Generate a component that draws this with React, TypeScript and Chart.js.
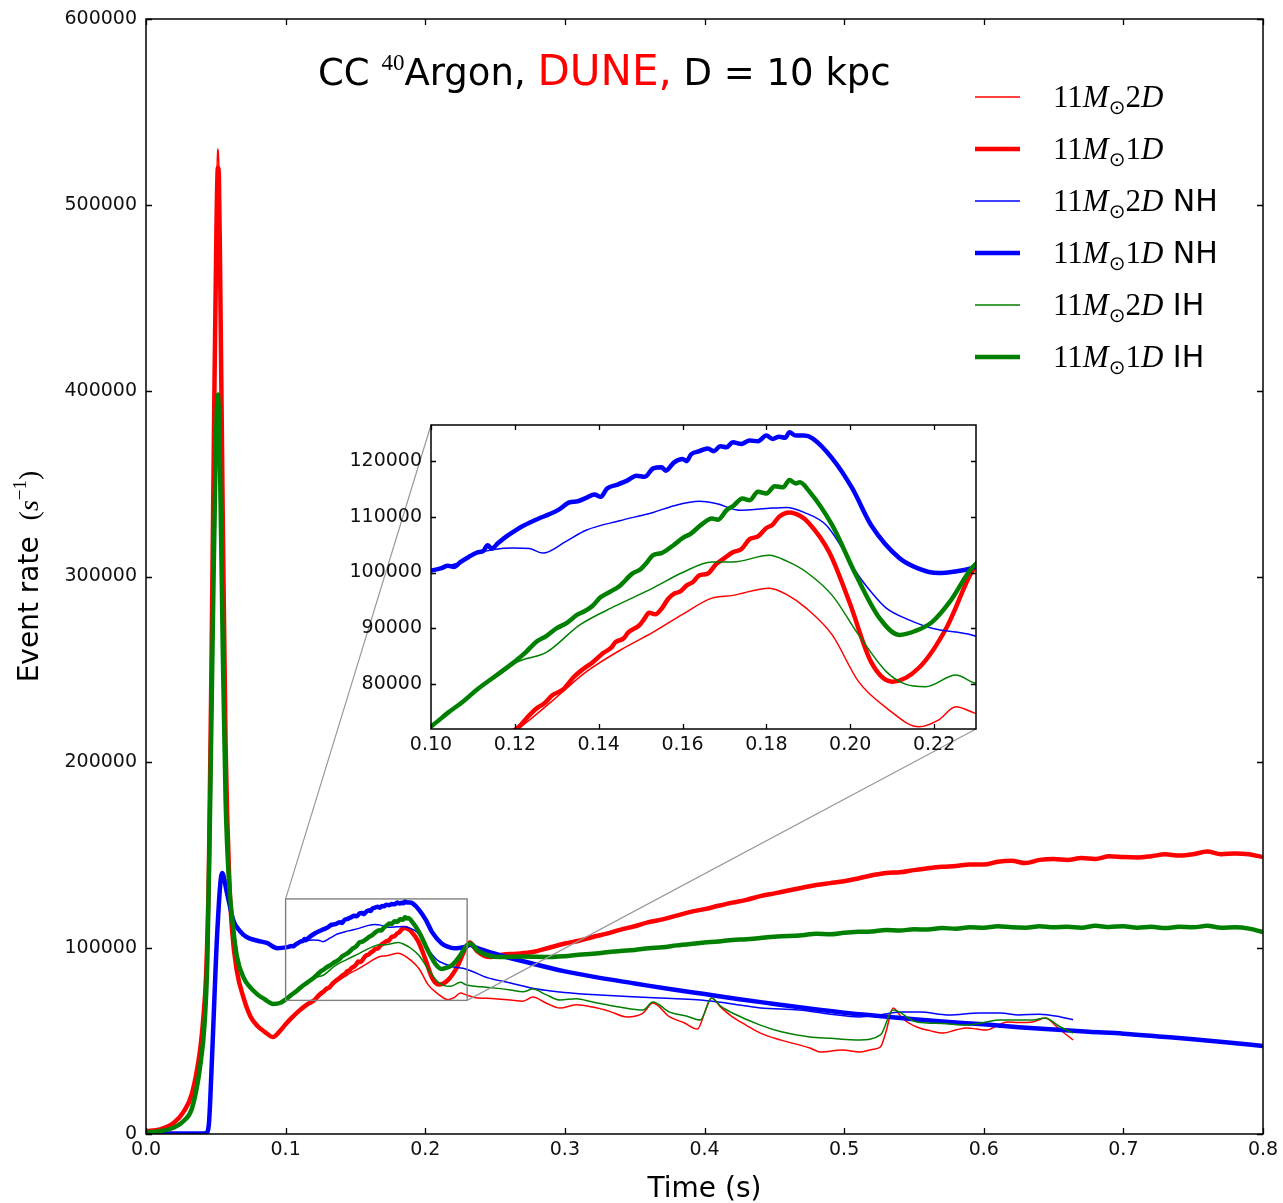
import React, { useEffect, useRef } from "react";
import { Chart, registerables } from "chart.js";
Chart.register(...registerables);

// ---------------- data ----------------
const LATE_T = [0.30, 0.31, 0.32, 0.33, 0.34, 0.35, 0.36, 0.37, 0.38, 0.39, 0.40, 0.41, 0.42, 0.43, 0.44, 0.45, 0.46, 0.47, 0.48, 0.49, 0.50, 0.51, 0.52, 0.53, 0.54, 0.55, 0.56, 0.57, 0.58, 0.59, 0.60, 0.61, 0.62, 0.63, 0.64, 0.65, 0.66, 0.67, 0.68, 0.69, 0.70, 0.71, 0.72, 0.73, 0.74, 0.75, 0.76, 0.77, 0.78, 0.79, 0.80];

// 11 Msun 1D (thick red)
const red1DT = [0, 0.01, 0.02, 0.027, 0.033, 0.0387, 0.041, 0.043, 0.045, 0.047, 0.049, 0.0505, 0.0515, 0.0522, 0.053, 0.055, 0.057, 0.0595, 0.0616, 0.065, 0.07, 0.075, 0.08, 0.085, 0.091, 0.096, 0.1, 0.105, 0.11, 0.115,
  0.121, 0.123, 0.125, 0.127, 0.129, 0.1315, 0.134, 0.136, 0.1386, 0.141, 0.143, 0.144, 0.146, 0.147, 0.1498, 0.151, 0.152, 0.1535, 0.155, 0.1565, 0.158, 0.1595, 0.161, 0.1625, 0.164, 0.166, 0.168, 0.17, 0.172, 0.174, 0.176, 0.178, 0.18, 0.1815, 0.183, 0.1855, 0.188, 0.19,
  0.195, 0.1998, 0.205, 0.21, 0.2164, 0.2229, 0.229, 0.232, 0.237, 0.2464, 0.255, 0.265, 0.277, 0.29, ...LATE_T];
const red1DY = [1500, 2500, 6000, 12000, 22000, 45000, 62000, 85000, 140000, 260000, 400000, 490000, 520000, 515000, 470000, 330000, 210000, 140000, 110000, 88000, 73000, 63000, 58000, 55000, 52200, 55500, 59000, 63000, 66500, 69500,
  72300, 74000, 75500, 76500, 78000, 79000, 81200, 82500, 83900, 85500, 86500, 87500, 88200, 89200, 90600, 91800, 92800, 92500, 93500, 95200, 96200, 96600, 97700, 98300, 99500, 99800, 101500, 102600, 103650, 104200, 106000, 106500, 108000, 108600, 110000, 110800, 110200, 109000,
  103650, 94700, 83900, 80400, 82900, 90000, 100100, 103000, 98500, 95200, 96500, 97000, 97900, 100500,
  102500, 104000, 106000, 107800, 110000, 111800, 114000, 115500, 117500, 119500, 121000, 122800, 124500, 126000, 128000, 129500, 131000, 132500, 134000, 135000, 136000, 137500, 139200, 140500, 140800, 142000, 143000, 143800, 144200, 145000, 145000, 146500, 147000, 145800, 147500, 148000, 147500, 148500, 148000, 149500, 149000, 148800, 149500, 150500, 149800, 150500, 152000, 150500, 151000, 150500, 149000];

// 11 Msun 2D (thin red)
const red2DT = [0, 0.01, 0.02, 0.027, 0.033, 0.0387, 0.041, 0.043, 0.045, 0.047, 0.049, 0.0505, 0.0512, 0.052, 0.053, 0.055, 0.057, 0.0595, 0.0616, 0.065, 0.07, 0.075, 0.08, 0.085, 0.091, 0.096, 0.1, 0.105, 0.11, 0.115, 0.121, 0.129, 0.137, 0.145, 0.153, 0.16, 0.167, 0.172, 0.1807, 0.185, 0.1895, 0.1957, 0.202, 0.2086, 0.2164, 0.221, 0.2252, 0.2295, 0.235, 0.245, 0.261, 0.27, 0.277, 0.2865, 0.2965, 0.308, 0.32, 0.332, 0.3445, 0.356, 0.363, 0.375, 0.385, 0.395, 0.4, 0.405, 0.412, 0.42, 0.43, 0.44, 0.455, 0.4755, 0.483, 0.499, 0.511, 0.52, 0.526, 0.53, 0.535, 0.542, 0.552, 0.562, 0.571, 0.58, 0.588, 0.595, 0.602, 0.61, 0.617, 0.625, 0.635, 0.644, 0.654, 0.664];
const red2DY = [1500, 2500, 6000, 12000, 22000, 45000, 62000, 85000, 140000, 260000, 400000, 500000, 530000, 525000, 480000, 335000, 212000, 140000, 110000, 88000, 73000, 63000, 58000, 55000, 52200, 55500, 59000, 63000, 66500, 69500, 72100, 77000, 82150, 86000, 89300, 92500, 95400, 95900, 97200, 96000, 93600, 88800, 80400, 75700, 72300, 73500, 75900, 74800, 73500, 73000, 72100, 71500, 73700, 70500, 67800, 69500, 68300, 66000, 63000, 65100, 70500, 63000, 60000, 56500, 65000, 73200, 68000, 63000, 58500, 54300, 50500, 46300, 44100, 45200, 44100, 45500, 46800, 55000, 67800, 62000, 57600, 55500, 54300, 56000, 57000, 56500, 56000, 58500, 60300, 60000, 60300, 62400, 56500, 50600];

// 11 Msun 1D NH (thick blue)
const blue1DT = [0, 0.02, 0.04, 0.043, 0.045, 0.046, 0.048, 0.051, 0.0545, 0.058, 0.0625, 0.067, 0.072, 0.08, 0.0866, 0.094,
  0.1005, 0.1025, 0.104, 0.1055, 0.107, 0.109, 0.111, 0.1125, 0.1135, 0.1145, 0.116, 0.118, 0.12, 0.122, 0.1236, 0.126, 0.128, 0.1305, 0.133, 0.135, 0.137, 0.139, 0.1405, 0.142, 0.1445, 0.147, 0.149, 0.151, 0.153, 0.155, 0.156, 0.158, 0.16, 0.161, 0.162, 0.164, 0.166, 0.1675, 0.169, 0.1705, 0.172, 0.174, 0.176, 0.178, 0.18, 0.1815, 0.183, 0.1845, 0.1855, 0.187, 0.189, 0.191,
  0.1957, 0.2005, 0.205, 0.2117, 0.216, 0.221, 0.225, 0.229, 0.232, 0.236, 0.25, 0.275, 0.3, 0.325, 0.35, 0.375, 0.4, 0.425, 0.45, 0.475, 0.5, 0.525, 0.55, 0.575, 0.6, 0.625, 0.65, 0.675, 0.7, 0.725, 0.75, 0.775, 0.8];
const blue1DY = [300, 300, 300, 500, 5000, 18300, 54300, 108000, 140400, 129700, 115100, 109500, 106000, 104000, 102800, 100000,
  100430, 100800, 101200, 101000, 101860, 102800, 103600, 103900, 104900, 104300, 105300, 106500, 107500, 108400, 109000, 109800, 110400, 111300, 112600, 112800, 113400, 114000, 113600, 115100, 115800, 116600, 117400, 117200, 118700, 118900, 118300, 119800, 120400, 120000, 121200, 121800, 122300, 121800, 122700, 122500, 123400, 123100, 123700, 123600, 124600, 124000, 124400, 124200, 125200, 124600, 124600, 124100,
  120500, 115100, 108500, 102600, 100800, 99900, 100200, 100800, 101800, 100500, 97000, 92000, 87500, 84000, 81000, 78000, 75300, 72500, 70000, 67500, 65300, 63500, 61800, 60300, 59000, 57500, 56200, 55000, 54000, 52500, 51000, 49300, 47400];

// 11 Msun 2D NH (thin blue)
const blue2DT = [0, 0.02, 0.04, 0.043, 0.045, 0.046, 0.048, 0.051, 0.0545, 0.058, 0.0625, 0.067, 0.072, 0.08, 0.0866, 0.094, 0.1005, 0.104, 0.107, 0.111, 0.1195, 0.1235, 0.1267, 0.132, 0.137, 0.145, 0.153, 0.158, 0.164, 0.168, 0.1736, 0.18, 0.1848, 0.189, 0.1943, 0.198, 0.2014, 0.205, 0.2086, 0.214, 0.2195, 0.229, 0.245, 0.261, 0.28, 0.2965, 0.31, 0.325, 0.345, 0.368, 0.38, 0.397, 0.41, 0.42, 0.44, 0.468, 0.49, 0.511, 0.525, 0.54, 0.554, 0.575, 0.597, 0.612, 0.625, 0.64, 0.655, 0.664];
const blue2DY = [300, 300, 300, 500, 5000, 18300, 54300, 108000, 140400, 129700, 115100, 109500, 106000, 104000, 102800, 100000, 100430, 101200, 101860, 103400, 104400, 104300, 103500, 105500, 107600, 109300, 110800, 112000, 112800, 112400, 111200, 111500, 111700, 110800, 108500, 104500, 100100, 96500, 93600, 91500, 90000, 88800, 84000, 81300, 78000, 76400, 75500, 74800, 74000, 73200, 72800, 72100, 71000, 70000, 67800, 66700, 64500, 63000, 64000, 65600, 65600, 64000, 65100, 65100, 64000, 64500, 63000, 61500];

// 11 Msun 1D IH (thick green)
const green1DT = [0, 0.01, 0.02, 0.027, 0.033, 0.0387, 0.042, 0.044, 0.046, 0.048, 0.05, 0.0515, 0.053, 0.055, 0.057, 0.0595, 0.0616, 0.065, 0.07, 0.0745, 0.08, 0.085, 0.091, 0.096, 0.1005, 0.104, 0.1076, 0.111, 0.1157,
  0.12, 0.1225, 0.125, 0.1275, 0.13, 0.1325, 0.1348, 0.1365, 0.1385, 0.1405, 0.1426, 0.145, 0.148, 0.15, 0.1515, 0.1529, 0.155, 0.158, 0.16, 0.162, 0.1645, 0.167, 0.1685, 0.1705, 0.172, 0.1743, 0.176, 0.178, 0.18, 0.182, 0.184, 0.1855, 0.187, 0.188, 0.19,
  0.1957, 0.2014, 0.207, 0.2117, 0.2155, 0.2195, 0.224, 0.229, 0.232, 0.238, 0.2535, 0.27, 0.289, ...LATE_T];
const green1DY = [1000, 1500, 3500, 7000, 14000, 36000, 60000, 95000, 180000, 280000, 370000, 398000, 360000, 260000, 180000, 135000, 116800, 96000, 84000, 79000, 75000, 72500, 70000, 70500, 72650, 74800, 76800, 79000, 81600,
  84000, 85600, 87500, 88600, 90000, 91000, 92400, 93000, 94000, 95600, 96500, 97600, 99800, 100600, 101800, 103100, 103500, 105000, 106200, 107000, 108600, 109700, 109500, 111200, 111900, 113300, 113000, 114500, 114200, 115500, 115300, 116600, 116000, 116200, 114800,
  108500, 99500, 91800, 88800, 89500, 91100, 95000, 100800, 102500, 98500, 95200, 95500, 95200,
  95700, 96500, 97000, 97800, 98500, 99000, 100000, 100500, 101500, 102300, 103000, 103600, 104400, 104800, 105500, 106200, 106500, 107000, 107800, 107500, 108300, 108800, 109000, 109800, 109500, 110200, 110000, 110800, 110500, 111300, 111000, 111800, 111200, 111000, 111800, 111200, 111500, 111000, 112000, 111400, 111800, 111000, 111500, 110800, 111500, 111200, 112000, 111000, 111200, 110500, 108700];

// 11 Msun 2D IH (thin green)
const green2DT = [0, 0.01, 0.02, 0.027, 0.033, 0.0387, 0.042, 0.044, 0.046, 0.048, 0.05, 0.0515, 0.053, 0.055, 0.057, 0.0595, 0.0616, 0.065, 0.07, 0.0745, 0.08, 0.085, 0.091, 0.096, 0.1005, 0.104, 0.1076, 0.111, 0.1157, 0.1205, 0.1276, 0.1355, 0.144, 0.1529, 0.16, 0.167, 0.172, 0.1807, 0.185, 0.1895, 0.1957, 0.202, 0.2086, 0.213, 0.218, 0.2252, 0.2295, 0.24, 0.25, 0.261, 0.27, 0.277, 0.2865, 0.2965, 0.308, 0.32, 0.33, 0.339, 0.356, 0.363, 0.375, 0.387, 0.397, 0.405, 0.412, 0.42, 0.44, 0.455, 0.4755, 0.49, 0.511, 0.526, 0.535, 0.552, 0.57, 0.588, 0.6, 0.612, 0.635, 0.644, 0.654, 0.664];
const green2DY = [1000, 1500, 3500, 7000, 14000, 36000, 60000, 95000, 178000, 275000, 362000, 390000, 355000, 258000, 180000, 135000, 116800, 96000, 84000, 79000, 75000, 72500, 70000, 70500, 72650, 74800, 76800, 79000, 81300, 83900, 85700, 90600, 94000, 97200, 100000, 101900, 101900, 103100, 102000, 100100, 95900, 88800, 82200, 80000, 79500, 81600, 80200, 79200, 78500, 77500, 76500, 78000, 75000, 72100, 72800, 71000, 69500, 68300, 66700, 71000, 65600, 63500, 61300, 73200, 68500, 65100, 58600, 55000, 52200, 51500, 50600, 53300, 66700, 60300, 59500, 58600, 60000, 61300, 61300, 62400, 58000, 54300];

// ticks
const mainXTicks = [0, 0.1, 0.2, 0.3, 0.4, 0.5, 0.6, 0.7, 0.8];
const mainYTicks = [0, 100000, 200000, 300000, 400000, 500000, 600000];
const insetXTicks = [0.10, 0.12, 0.14, 0.16, 0.18, 0.20, 0.22];
const insetYTicks = [80000, 90000, 100000, 110000, 120000];

// zoom window
const ZOOM_X = [0.10, 0.23];
const ZOOM_Y = [71900, 126500];

// ---------------- style ----------------
const W = 1283;
const H = 1203;
const SANS = '"DejaVu Sans", "Liberation Sans", sans-serif';
const SERIF = '"Liberation Serif", "DejaVu Serif", serif';
const RED = "#ff0000";
const BLUE = "#0000ff";
const GREEN = "#008000";
const THIN = 1.5;
const THICK = 4.5;
const TICK_FONT = 19;

const INSET_LEFT = 330;
const INSET_TOP = 413;
const INSET_W = 660;
const INSET_H = 352;

const series = [
  { t: red2DT, y: red2DY, color: RED, width: THIN, num: "2", suffix: "" },
  { t: red1DT, y: red1DY, color: RED, width: THICK, num: "1", suffix: "" },
  { t: blue2DT, y: blue2DY, color: BLUE, width: THIN, num: "2", suffix: " NH" },
  { t: blue1DT, y: blue1DY, color: BLUE, width: THICK, num: "1", suffix: " NH" },
  { t: green2DT, y: green2DY, color: GREEN, width: THIN, num: "2", suffix: " IH" },
  { t: green1DT, y: green1DY, color: GREEN, width: THICK, num: "1", suffix: " IH" },
];

function makeDatasets() {
  return series.map((s, i) => ({
    label: `11M${s.num}D${s.suffix}`,
    data: s.t.map((x, k) => ({ x, y: s.y[k] })),
    borderColor: s.color,
    backgroundColor: s.color,
    borderWidth: s.width,
    pointRadius: 0,
    fill: false,
    cubicInterpolationMode: "monotone" as const,
    borderJoinStyle: "round" as const,
    order: series.length - i,
  }));
}

type Run = { text: string; font: string; color?: string; dy?: number };
function runsWidth(ctx: CanvasRenderingContext2D, runs: Run[]) {
  let w = 0;
  for (const r of runs) {
    ctx.font = r.font;
    w += ctx.measureText(r.text).width;
  }
  return w;
}
function drawRuns(ctx: CanvasRenderingContext2D, x: number, y: number, runs: Run[]) {
  ctx.textBaseline = "alphabetic";
  ctx.textAlign = "left";
  for (const r of runs) {
    ctx.font = r.font;
    ctx.fillStyle = r.color || "#000";
    ctx.fillText(r.text, x, y + (r.dy || 0));
    x += ctx.measureText(r.text).width;
  }
  return x;
}

function framePlugin(tickLen: number, xTicks: number[], yTicks: number[], fillBg: boolean) {
  return {
    id: "frameTicks",
    beforeDatasetsDraw(chart: any) {
      if (!fillBg) return;
      const { ctx, chartArea: a } = chart;
      ctx.save();
      ctx.fillStyle = "#fff";
      ctx.fillRect(a.left, a.top, a.right - a.left, a.bottom - a.top);
      ctx.restore();
    },
    afterDatasetsDraw(chart: any) {
      const { ctx, chartArea: a, scales } = chart;
      ctx.save();
      ctx.strokeStyle = "#000";
      ctx.lineWidth = 1.3;
      ctx.beginPath();
      for (const v of xTicks) {
        const px = Math.round(scales.x.getPixelForValue(v)) + 0.5;
        ctx.moveTo(px, a.bottom);
        ctx.lineTo(px, a.bottom - tickLen);
        ctx.moveTo(px, a.top);
        ctx.lineTo(px, a.top + tickLen);
      }
      for (const v of yTicks) {
        const py = Math.round(scales.y.getPixelForValue(v)) + 0.5;
        ctx.moveTo(a.left, py);
        ctx.lineTo(a.left + tickLen, py);
        ctx.moveTo(a.right, py);
        ctx.lineTo(a.right - tickLen, py);
      }
      ctx.stroke();
      ctx.lineWidth = 1.5;
      ctx.strokeRect(a.left, a.top, a.right - a.left, a.bottom - a.top);
      ctx.restore();
    },
  };
}

function mainDecor(inset: any) {
  return {
    id: "mainDecor",
    afterDatasetsDraw(chart: any) {
      const { ctx, scales } = chart;
      const x0 = scales.x.getPixelForValue(ZOOM_X[0]);
      const x1 = scales.x.getPixelForValue(ZOOM_X[1]);
      const y0 = scales.y.getPixelForValue(ZOOM_Y[1]);
      const y1 = scales.y.getPixelForValue(ZOOM_Y[0]);
      ctx.save();
      ctx.strokeStyle = "#808080";
      ctx.lineWidth = 1.4;
      ctx.strokeRect(x0, y0, x1 - x0, y1 - y0);
      const ia = inset.chartArea;
      ctx.strokeStyle = "#999999";
      ctx.lineWidth = 1.2;
      ctx.beginPath();
      ctx.moveTo(x0, y0);
      ctx.lineTo(INSET_LEFT + ia.left, INSET_TOP + ia.top);
      ctx.moveTo(x1, y1);
      ctx.lineTo(INSET_LEFT + ia.right, INSET_TOP + ia.bottom);
      ctx.stroke();
      ctx.restore();
    },
    afterDraw(chart: any) {
      const { ctx, chartArea: a } = chart;
      ctx.save();
      // title
      drawRuns(ctx, 318, 85, [
        { text: "CC ", font: `37px ${SANS}` },
        { text: "40", font: `23px ${SERIF}`, dy: -15 },
        { text: "Argon, ", font: `37px ${SANS}` },
        { text: "DUNE,", font: `42px ${SANS}`, color: RED },
        { text: " D = 10 kpc", font: `37px ${SANS}` },
      ]);
      // legend
      series.forEach((s, i) => {
        const y = 97 + i * 52;
        ctx.strokeStyle = s.color;
        ctx.lineWidth = s.width;
        ctx.lineCap = "butt";
        ctx.beginPath();
        ctx.moveTo(975, y);
        ctx.lineTo(1020, y);
        ctx.stroke();
        const base = y + 10;
        drawRuns(ctx, 1053, base, [
          { text: "11", font: `31px ${SERIF}` },
          { text: "M", font: `italic 31px ${SERIF}` },
          { text: "\u2299", font: `20px ${SANS}`, dy: 7 },
          { text: s.num, font: `31px ${SERIF}` },
          { text: "D", font: `italic 31px ${SERIF}` },
          { text: s.suffix, font: `30px ${SANS}` },
        ]);
      });
      // x axis title
      const xr: Run[] = [{ text: "Time (s)", font: `28px ${SANS}` }];
      const xw = runsWidth(ctx, xr);
      drawRuns(ctx, (a.left + a.right) / 2 - xw / 2, 1197, xr);
      // y axis title
      const yr: Run[] = [
        { text: "Event rate ", font: `28px ${SANS}` },
        { text: " (", font: `28px ${SERIF}` },
        { text: "s", font: `italic 28px ${SERIF}` },
        { text: "\u22121", font: `19px ${SERIF}`, dy: -12 },
        { text: ")", font: `28px ${SERIF}` },
      ];
      const yw = runsWidth(ctx, yr);
      ctx.translate(38, (a.top + a.bottom) / 2);
      ctx.rotate(-Math.PI / 2);
      drawRuns(ctx, -yw / 2, 0, yr);
      ctx.restore();
    },
  };
}

function scaleOpts(min: number, max: number, ticks: number[], fmt: (v: number) => string, size: number, pad: number, fontSize: number, isX: boolean) {
  return {
    type: "linear" as const,
    min,
    max,
    grid: { display: false, drawTicks: false },
    border: { display: false },
    afterBuildTicks: (s: any) => {
      s.ticks = ticks.map((v) => ({ value: v }));
    },
    afterFit: (s: any) => {
      if (isX) s.height = size;
      else s.width = size;
      s.paddingTop = 0;
      s.paddingBottom = 0;
      s.paddingLeft = 0;
      s.paddingRight = 0;
    },
    ticks: {
      autoSkip: false,
      maxRotation: 0,
      minRotation: 0,
      padding: pad,
      color: "#111",
      font: { family: SANS, size: fontSize },
      callback: (v: any) => fmt(Number(v)),
    },
  };
}

export default function App() {
  const mainRef = useRef<HTMLCanvasElement>(null);
  const insetRef = useRef<HTMLCanvasElement>(null);

  useEffect(() => {
    const inset = new Chart(insetRef.current!, {
      type: "line",
      data: { datasets: makeDatasets() as any },
      options: {
        animation: false,
        responsive: false,
        devicePixelRatio: 1,
        events: [],
        layout: { padding: { left: 0, top: 12, right: 14, bottom: 0 } },
        plugins: { legend: { display: false }, tooltip: { enabled: false } },
        scales: {
          x: scaleOpts(ZOOM_X[0], ZOOM_X[1], insetXTicks, (v) => v.toFixed(2), 36, 5, TICK_FONT, true),
          y: scaleOpts(ZOOM_Y[0], ZOOM_Y[1], insetYTicks, (v) => String(Math.round(v)), 101, 9, TICK_FONT, false),
        },
      } as any,
      plugins: [framePlugin(5, insetXTicks, insetYTicks, true)],
    });

    const main = new Chart(mainRef.current!, {
      type: "line",
      data: { datasets: makeDatasets() as any },
      options: {
        animation: false,
        responsive: false,
        devicePixelRatio: 1,
        events: [],
        layout: { padding: { left: 0, top: 19, right: 20, bottom: 0 } },
        plugins: { legend: { display: false }, tooltip: { enabled: false } },
        scales: {
          x: scaleOpts(0, 0.8, mainXTicks, (v) => v.toFixed(1), 69, 5, TICK_FONT, true),
          y: scaleOpts(0, 600000, mainYTicks, (v) => String(Math.round(v)), 146, 9, TICK_FONT, false),
        },
      } as any,
      plugins: [framePlugin(6, mainXTicks, mainYTicks, false), mainDecor(inset)],
    });

    return () => {
      main.destroy();
      inset.destroy();
    };
  }, []);

  return (
    <div style={{ position: "absolute", left: 0, top: 0, width: W, height: H, background: "#fff" }}>
      <canvas ref={mainRef} width={W} height={H} style={{ position: "absolute", left: 0, top: 0, width: W, height: H }} />
      <canvas
        ref={insetRef}
        width={INSET_W}
        height={INSET_H}
        style={{ position: "absolute", left: INSET_LEFT, top: INSET_TOP, width: INSET_W, height: INSET_H }}
      />
    </div>
  );
}
